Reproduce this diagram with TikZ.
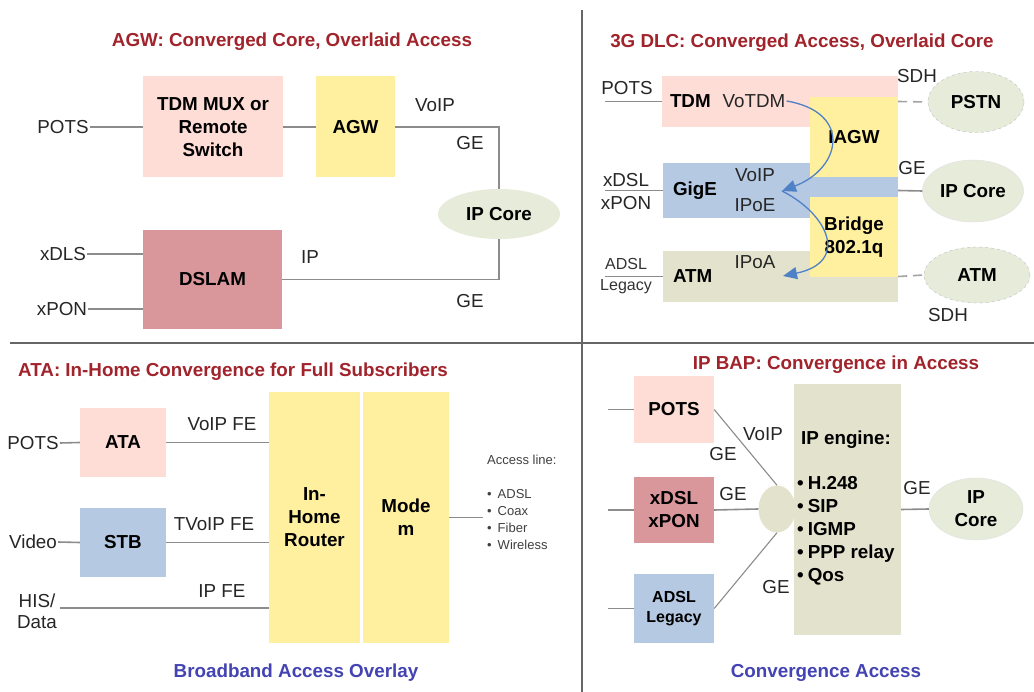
\documentclass[tikz,border=0pt]{standalone}
\usepackage{fontspec}
\setmainfont{Liberation Sans}
\usepackage{tikz}
\usetikzlibrary{shapes.geometric,arrows.meta,positioning}
\definecolor{boxpink}{HTML}{FDDDD6}
\definecolor{boxyellow}{HTML}{FFF0A0}
\definecolor{boxrose}{HTML}{D9979B}
\definecolor{boxblue}{HTML}{B5C9E3}
\definecolor{boxkhaki}{HTML}{E3E3CD}
\definecolor{cloudgreen}{HTML}{E7EBDA}
\definecolor{titlered}{HTML}{A1232B}
\definecolor{titleblue}{HTML}{4343B3}
\definecolor{linegray}{HTML}{8C8C8C}
\definecolor{arrowblue}{HTML}{4F81C7}
\tikzset
{
    netbox/.style     = {rectangle, inner sep=0pt, align=center, font=\fontsize{18.8}{23}\selectfont\bfseries},
    netcloud/.style   = {ellipse, fill=cloudgreen, inner sep=0pt, align=center, font=\fontsize{18.8}{23}\selectfont\bfseries},
    portlabel/.style  = {inner sep=1pt, align=center, text=black!85, font=\fontsize{18.8}{21}\selectfont},
    smalllabel/.style = {inner sep=1pt, align=center, text=black!80, font=\fontsize{16}{18}\selectfont},
    tinylabel/.style  = {inner sep=1pt, align=left, text=black!75, font=\fontsize{13}{17}\selectfont},
    wire/.style       = {draw=linegray, line width=1.6pt},
    thinwire/.style   = {draw=linegray, line width=1.1pt},
    sdhwire/.style    = {draw=linegray!80, line width=1.6pt, dash pattern=on 9pt off 6pt},
    flowarrow/.style  = {draw=arrowblue, line width=1.3pt, -{Triangle[length=14pt,width=12pt]}},
    paneltitle/.style = {inner sep=0pt, font=\fontsize{18.8}{21}\selectfont\bfseries, text=titlered},
    panelfoot/.style  = {inner sep=0pt, font=\fontsize{18.8}{21}\selectfont\bfseries, text=titleblue},
    divider/.style    = {draw=black!60, line width=2.5pt}
}
\begin{document}
\begin{tikzpicture}[x=1pt, y=-1pt]
    \path [use as bounding box, fill=white] (0,0) rectangle (1034,692);

    \node [paneltitle] (agwtitle) at (292,42) {AGW: Converged Core, Overlaid Access};
    \node [netbox, fill=boxpink, minimum width=140, minimum height=101] (tdmmux) at (213,127) {TDM MUX or \\ Remote \\ Switch};
    \node [netbox, fill=boxyellow, minimum width=79, minimum height=101] (agw) at (355.5,127) {AGW};
    \node [netbox, fill=boxrose, minimum width=139, minimum height=99] (dslam) at (212.5,279.5) {DSLAM};
    \node [netcloud, minimum width=122, minimum height=50] (agwcore) at (499,214) {IP Core};
    \node [portlabel] (agwpots) at (63,127) {POTS};
    \node [portlabel] (agwxdls) at (63,254) {xDLS};
    \node [portlabel] (agwxpon) at (62,309) {xPON};
    \draw [wire] (agwpots.east) -- (tdmmux.west);
    \draw [wire] (tdmmux.east) -- (agw.west);
    \draw [wire] (agwxdls.east) -- (agwxdls.east -| dslam.west);
    \draw [wire] (agwxpon.east) -- (agwxpon.east -| dslam.west);
    \draw [wire] (agw.east) -| (agwcore.north);
    \draw [wire] (dslam.east) -| (agwcore.south);
    \node [portlabel] (agwvoip) at (435,105) {VoIP};
    \node [portlabel] (agwgetop) at (470,143) {GE};
    \node [portlabel] (agwip) at (310,257) {IP};
    \node [portlabel] (agwgebottom) at (470,301) {GE};

    \node [paneltitle] (dlctitle) at (802,43) {3G DLC: Converged Access, Overlaid Core};
    \node [netbox, fill=boxpink, minimum width=236, minimum height=51] (tdmband) at (780,101.5) {};
    \node [netbox, fill=boxblue, minimum width=235, minimum height=55] (gigeband) at (780.5,190.5) {};
    \node [netbox, fill=boxkhaki, minimum width=235, minimum height=51] (atmband) at (780.5,276.5) {};
    \node [netbox, fill=boxyellow, minimum width=88, minimum height=80] (iagw) at (854,137) {IAGW};
    \node [netbox, fill=boxyellow, minimum width=88, minimum height=80] (bridge) at (854,237) {Bridge \\ 802.1q};
    \node [netbox, anchor=west] (tdmtext) at ([xshift=8]tdmband.west) {TDM};
    \node [netbox, anchor=west] (gigetext) at ([xshift=10]gigeband.west) {GigE};
    \node [netbox, anchor=west] (atmtext) at ([xshift=10]atmband.west) {ATM};
    \node [portlabel] (votdm) at (754,101) {VoTDM};
    \node [portlabel] (dlcvoip) at (755,175) {VoIP};
    \node [portlabel] (dlcipoe) at (755,205) {IPoE};
    \node [portlabel] (dlcipoa) at (755,262) {IPoA};
    \node [portlabel] (dlcpots) at (627,88) {POTS};
    \node [portlabel] (dlcxdsl) at (626,192) {xDSL \\[2pt] xPON};
    \node [smalllabel] (dlcadsl) at (626,276) {ADSL \\[3pt] Legacy};
    \coordinate (dlcpotsin) at (605,101.5);
    \coordinate (dlcxdslin) at (605,190.5);
    \coordinate (dlcadslin) at (605,276.5);
    \draw [wire] (dlcpotsin) -- (tdmband.west);
    \draw [wire] (dlcxdslin) -- (gigeband.west);
    \draw [wire] (dlcadslin) -- (atmband.west);
    \node [netcloud, draw=black!25, dashed, minimum width=96, minimum height=61] (pstn) at (976,102) {PSTN};
    \node [netcloud, draw=black!12, minimum width=101, minimum height=62] (dlccore) at (973,191) {IP Core};
    \node [netcloud, draw=black!25, dashed, minimum width=106, minimum height=56] (atmcloud) at (977,275) {ATM};
    \draw [sdhwire] (tdmband.east) -- (pstn.west);
    \draw [wire] (gigeband.east) -- (dlccore.west);
    \draw [sdhwire] (atmband.east) -- (atmcloud.west);
    \node [portlabel] (sdhtop) at (917,76) {SDH};
    \node [portlabel] (dlcge) at (912,168) {GE};
    \node [portlabel] (sdhbottom) at (948,315) {SDH};
    \coordinate (voipin) at (782,191);
    \coordinate (ipoain) at (783,276);
    \draw [flowarrow] (votdm.east) .. controls (852,112) and (842,168) .. (voipin);
    \draw [flowarrow] (voipin) .. controls (828,214) and (850,262) .. (ipoain);

    \node [paneltitle] (atatitle) at (233,372) {ATA: In-Home Convergence for Full Subscribers};
    \node [netbox, fill=boxpink, minimum width=86, minimum height=69] (ata) at (123,442.5) {ATA};
    \node [netbox, fill=boxblue, minimum width=86, minimum height=69] (stb) at (123,542.5) {STB};
    \node [netbox, fill=boxyellow, minimum width=91, minimum height=251] (router) at (314.5,517.5) {In- \\ Home \\ Router};
    \node [netbox, fill=boxyellow, minimum width=86, minimum height=251] (modem) at (406,517.5) {Mode \\ m};
    \node [portlabel] (atapots) at (33,443) {POTS};
    \node [portlabel] (atavideo) at (33,542) {Video};
    \node [portlabel] (hisdata) at (37,611) {HIS/ \\ Data};
    \coordinate (hisin) at (60,608);
    \draw [wire] (atapots.east) -- (ata.west);
    \draw [wire] (atavideo.east) -- (stb.west);
    \draw [wire] (hisin) -- (hisin -| router.west);
    \draw [wire] (ata.east) -- (ata.east -| router.west);
    \draw [wire] (stb.east) -- (stb.east -| router.west);
    \node [portlabel] (voipfe) at (222,424) {VoIP FE};
    \node [portlabel] (tvoipfe) at (214,524) {TVoIP FE};
    \node [portlabel] (ipfe) at (222,591) {IP FE};
    \coordinate (accessout) at (483,517.5);
    \draw [wire] (modem.east) -- (accessout);
    \node [tinylabel, anchor=north west] (accesslist) at (486,454) {Access line: \\[17pt] \textbullet\hspace{6pt}ADSL \\ \textbullet\hspace{6pt}Coax \\ \textbullet\hspace{6pt}Fiber \\ \textbullet\hspace{6pt}Wireless};
    \node [panelfoot] (atafoot) at (296,673) {Broadband Access Overlay};

    \node [paneltitle] (baptitle) at (836,365) {IP BAP: Convergence in Access};
    \node [netbox, fill=boxpink, minimum width=80, minimum height=67] (bappots) at (674,409.5) {POTS};
    \node [netbox, fill=boxrose, minimum width=80, minimum height=66] (bapxdsl) at (674,510) {xDSL \\ xPON};
    \node [netbox, fill=boxblue, minimum width=80, minimum height=69, font=\fontsize{16}{20}\selectfont\bfseries] (bapadsl) at (674,608.5) {ADSL \\ Legacy};
    \node [netcloud, fill=boxkhaki, minimum width=37, minimum height=47] (baphub) at (777,509) {};
    \node [netbox, fill=boxkhaki, minimum width=107, minimum height=251] (engine) at (847.5,509.5) {};
    \node [netcloud, draw=black!12, minimum width=94, minimum height=62] (bapcore) at (976,509) {IP \\ Core};
    \node [netbox] (enginehead) at (846,440) {IP engine:};
    \node [netbox, anchor=west, align=left] (enginelist) at (797,530.5) {\textbullet\hspace{4pt}H.248 \\ \textbullet\hspace{4pt}SIP \\ \textbullet\hspace{4pt}IGMP \\ \textbullet\hspace{4pt}PPP relay \\ \textbullet\hspace{4pt}Qos};
    \coordinate (bappotsin) at (608,409.5);
    \coordinate (bapxdslin) at (608,510);
    \coordinate (bapadslin) at (608,608.5);
    \draw [wire] (bappotsin) -- (bappots.west);
    \draw [wire] (bapxdslin) -- (bapxdsl.west);
    \draw [wire] (bapadslin) -- (bapadsl.west);
    \draw [thinwire] (bappots.east) -- (baphub.north);
    \draw [wire] (bapxdsl.east) -- (baphub.west);
    \draw [thinwire] (bapadsl.east) -- (baphub.south);
    \draw [wire] (engine.east) -- (bapcore.west);
    \node [portlabel] (bapvoip) at (763,434) {VoIP};
    \node [portlabel] (bapgepots) at (723,454) {GE};
    \node [portlabel] (bapgexdsl) at (733,494) {GE};
    \node [portlabel] (bapgeadsl) at (776,587) {GE};
    \node [portlabel] (bapgecore) at (917,488) {GE};
    \node [panelfoot] (bapfoot) at (826,673) {Convergence Access};

    \draw [divider] (582,10) -- (582,692);
    \draw [divider] (10,343) -- (1034,343);
\end{tikzpicture}
\end{document}
